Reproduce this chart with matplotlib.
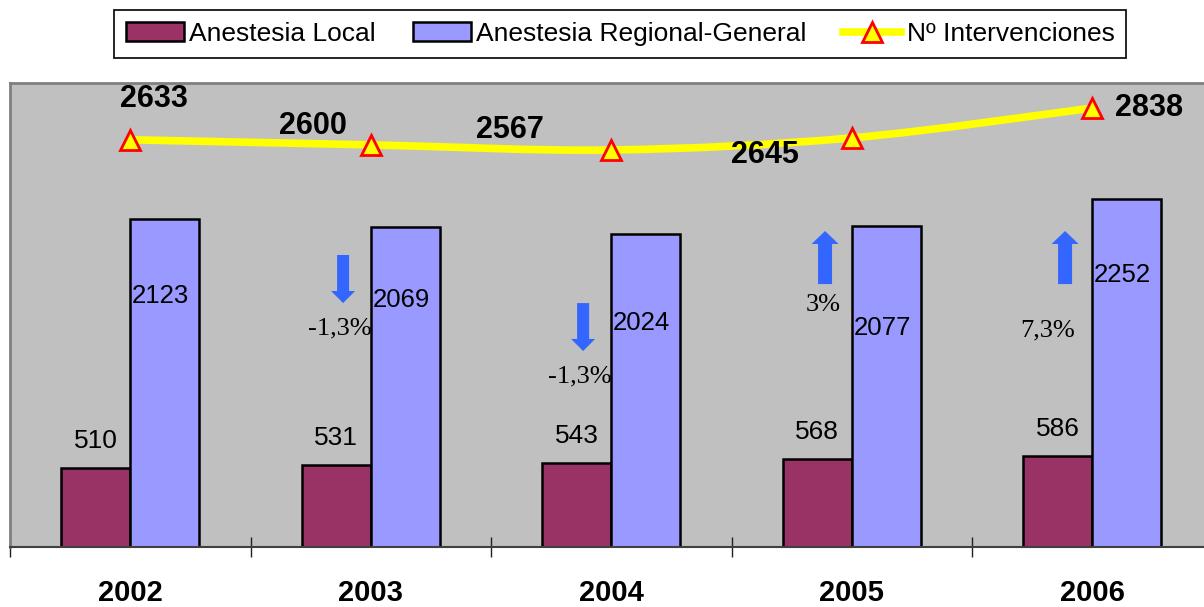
import matplotlib
matplotlib.use("Agg")
import matplotlib.pyplot as plt
from matplotlib.path import Path
from matplotlib.patches import PathPatch, Polygon
import matplotlib.transforms as mtransforms
import numpy as np

years = ["2002", "2003", "2004", "2005", "2006"]
local = [510, 531, 543, 568, 586]
regional = [2123, 2069, 2024, 2077, 2252]
interv = [2633, 2600, 2567, 2645, 2838]
pct_labels = ["-1,3%", "-1,3%", "3%", "7,3%"]   # for 2003..2006
pct_dirs = [-1, -1, 1, 1]

# layout (not data)
reg_label_y = [1622, 1597, 1448, 1416, 1758]
interv_off_px = [(24, 41), (-58, 19), (-101, 20), (-87, -17), (57, 0)]
pct_pos = [(0.872, 1416), (1.870, 1105), (2.880, 1564), (3.816, 1403)]
arrow_x = [0.885, 1.883, 2.889, 3.887]

DPI = 100
fig = plt.figure(figsize=(12.04, 6.07), dpi=DPI)
W, H = 1204, 607
ax = fig.add_axes([10 / W, (H - 547) / H, 1202.5 / W, (547 - 83) / H])
ax.set_facecolor("#C0C0C0")
ax.set_xlim(-0.5, 4.5)
ax.set_ylim(0, 3000)

x = np.arange(len(years))
bw = 0.287
b1 = ax.bar(x - bw / 2, local, bw, color="#993366", edgecolor="black", linewidth=1.8,
            label="Anestesia Local", zorder=2)
b2 = ax.bar(x + bw / 2, regional, bw, color="#9999FF", edgecolor="black", linewidth=1.8,
            label="Anestesia Regional-General", zorder=2)

pt = 72.0 / DPI
for i, v in enumerate(local):
    ax.annotate(str(v), (x[i] - bw / 2, v), xytext=(0, 27 * pt), textcoords="offset points",
                ha="center", va="center", fontsize=19, family="Liberation Sans", zorder=5)
for i, v in enumerate(regional):
    ax.annotate(str(v), (x[i] + bw / 2, reg_label_y[i]), xytext=(-4 * pt, 0),
                textcoords="offset points", ha="center", va="center", fontsize=18.5,
                family="Liberation Sans", zorder=5)

# smoothed line (Excel-like bezier)
P = np.column_stack([x, interv]).astype(float)
verts = [P[0]]
codes = [Path.MOVETO]
n = len(P)
for i in range(n - 1):
    p0 = P[i - 1] if i > 0 else P[i]
    p1 = P[i]
    p2 = P[i + 1]
    p3 = P[i + 2] if i + 2 < n else P[i + 1]
    c1 = p1 + (p2 - p0) / 6
    c2 = p2 - (p3 - p1) / 6
    verts += [c1, c2, p2]
    codes += [Path.CURVE4] * 3
ax.add_patch(PathPatch(Path(verts, codes), facecolor="none", edgecolor="#FFFF00",
                       linewidth=5.5, zorder=3, capstyle="round"))
ax.plot(x, interv, linestyle="none", marker="^", markersize=14, markerfacecolor="#FFFF00",
        markeredgecolor="#FF0000", markeredgewidth=2, zorder=4)
lh, = ax.plot([], [], color="#FFFF00", linewidth=5.5, marker="^", markersize=14,
              markerfacecolor="#FFFF00", markeredgecolor="#FF0000", markeredgewidth=2,
              label="Nº Intervenciones")
for i, v in enumerate(interv):
    dx, dy = interv_off_px[i]
    ax.annotate(str(v), (x[i], v), xytext=(dx * pt, dy * pt), textcoords="offset points",
                ha="center", va="center", fontsize=22, fontweight="bold",
                family="Liberation Sans", zorder=5)

# arrows and percentages
xscale = 5 / 1202.5
arrow_y = [(1888, 1655, 1577), (1577, 1345, 1267), (1700, 1959, 2043), (1700, 1959, 2043)]
for i in range(4):
    cx = arrow_x[i]
    tail, hs, tip = arrow_y[i]
    if pct_dirs[i] < 0:
        sh, hh = 6 * xscale, 12 * xscale
    else:
        sh, hh = 7 * xscale, 13.5 * xscale
    poly = [(cx - sh, tail), (cx + sh, tail), (cx + sh, hs), (cx + hh, hs), (cx, tip),
            (cx - hh, hs), (cx - sh, hs)]
    ax.add_patch(Polygon(poly, closed=True, facecolor="#3366FF", edgecolor="none", zorder=4))
    px, py = pct_pos[i]
    ax.text(px, py, pct_labels[i], ha="center", va="center", fontsize=19,
            family="Liberation Serif", zorder=5)

# axes styling
for s in ["top", "left"]:
    ax.spines[s].set_color("#808080")
    ax.spines[s].set_linewidth(2)
ax.spines["right"].set_visible(False)
ax.spines["bottom"].set_color("#404040")
ax.spines["bottom"].set_linewidth(1.5)
ax.set_yticks([])
ax.set_xticks(np.arange(-0.5, 4.6, 1.0))
ax.set_xticklabels([])
ax.tick_params(axis="x", which="major", direction="inout", length=14, width=1, color="#202020")

trans = mtransforms.blended_transform_factory(ax.transData, fig.transFigure)
for i, yl in enumerate(years):
    ax.text(x[i], 1 - 593 / H, yl, transform=trans, ha="center", va="center",
            fontsize=21, fontweight="bold", family="Liberation Sans", clip_on=False)

leg = fig.legend(handles=[b1, b2, lh], loc="upper center", bbox_to_anchor=(620 / W, 1 - 10 / H),
                 ncol=3, frameon=True, fancybox=False, edgecolor="black", framealpha=1,
                 prop={"family": "Liberation Sans", "size": 19}, handlelength=2.2,
                 handleheight=0.7, handletextpad=0.2, columnspacing=1.4, borderpad=0.45,
                 borderaxespad=0)
leg.get_frame().set_linewidth(1.2)

fig.savefig("out.png", dpi=DPI)
